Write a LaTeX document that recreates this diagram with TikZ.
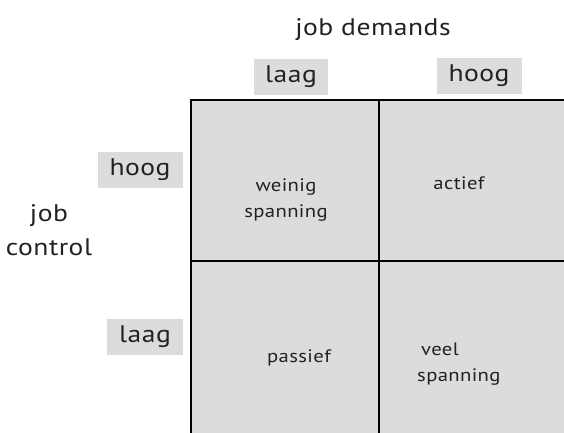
\documentclass[tikz,border=0pt]{standalone}
\usepackage{fontspec}
\setmainfont[FakeStretch=1.15,LetterSpace=2]{PT Sans}
\definecolor{cellgray}{HTML}{DCDCDC}
\definecolor{txt}{HTML}{222222}
\begin{document}
\begin{tikzpicture}[x=1pt,y=-1pt,
  axis/.style={font=\fontsize{24}{26}\selectfont, text=txt, inner sep=0pt},
  tag/.style={fill=cellgray, font=\fontsize{24}{26}\selectfont, text=txt, inner sep=0pt, minimum height=36pt},
  cell/.style={font=\fontsize{18}{26}\selectfont, text=txt, inner sep=0pt, align=center},
  grid/.style={draw=black, line width=1.4pt, fill=cellgray}]
\useasboundingbox (0,0) rectangle (564,432);
\clip (0,0) rectangle (564,432);
\fill[white] (0,0) rectangle (564,432);
% grid cells
\draw[grid] (191,100) rectangle (379,261);
\draw[grid] (379,100) rectangle (580,261);
\draw[grid] (191,261) rectangle (379,450);
\draw[grid] (379,261) rectangle (580,450);
% axis titles
\node[axis] (jd) at (373,30) {job demands};
\node[axis, align=center, font=\fontsize{24}{34}\selectfont] (jc) at (49,230) {job\\control};
% tags
\node[tag, minimum width=74pt] (tl) at (291,77) {laag};
\node[tag, minimum width=85pt] (th) at (479,76) {hoog};
\node[tag, minimum width=85pt] (lh) at (140,170) {hoog};
\node[tag, minimum width=76pt] (ll) at (145,337) {laag};
% cell texts
\node[cell] (c11) at (286,200) {weinig\\spanning};
\node[cell] (c12) at (459,183) {actief};
\node[cell] (c21) at (299,358) {passief};
\node[cell, align=left, anchor=west] (c22) at (417,364) {\hspace*{4pt}veel\\spanning};
\end{tikzpicture}
\end{document}
